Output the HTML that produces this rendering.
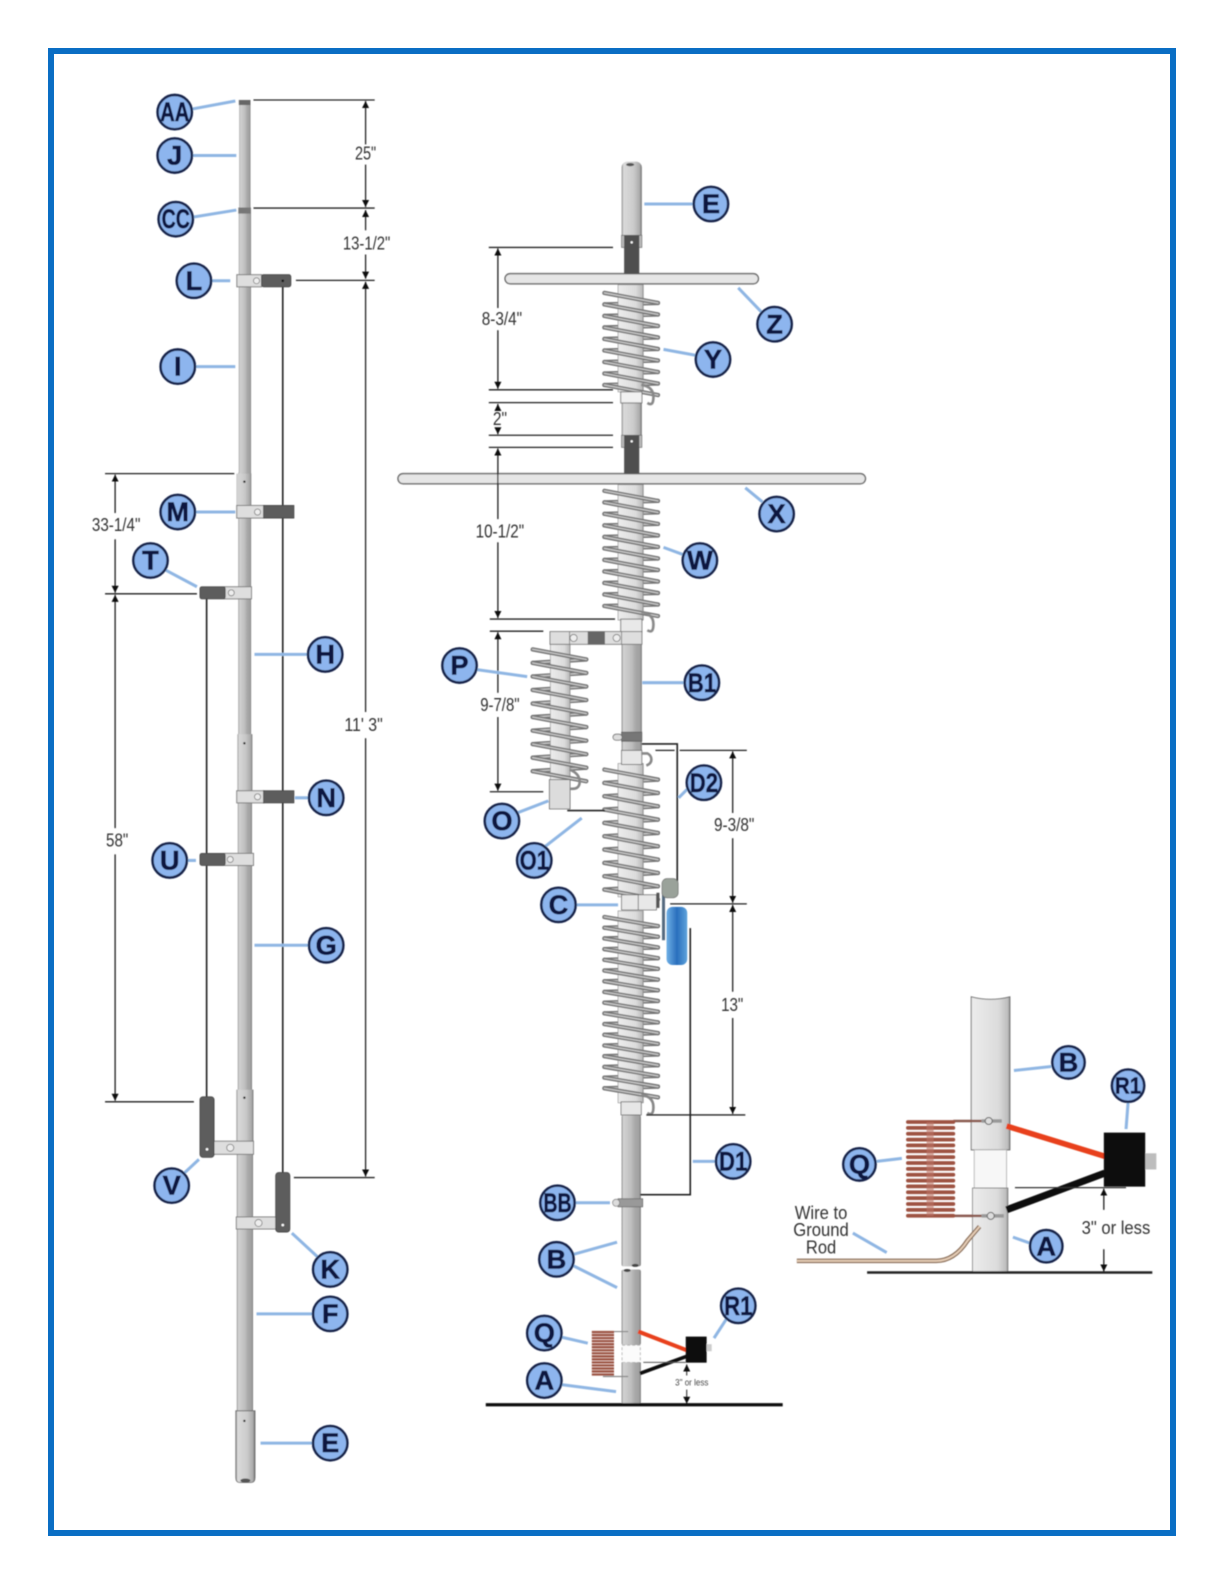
<!DOCTYPE html>
<html><head><meta charset="utf-8"><style>
html,body{margin:0;padding:0;background:#fff}
svg{display:block}
.c{fill:#8db5ee;stroke:#14244a;stroke-width:2.5}
.l{font:bold 27px "Liberation Sans",sans-serif;fill:#0a1740;stroke:#0a1740;stroke-width:.5;text-anchor:middle}
.ld{stroke:#8fb6e3;stroke-width:3;fill:none}
.d{stroke:#222;stroke-width:1.3;fill:none}
.t{font:18px "Liberation Sans",sans-serif;fill:#333;text-anchor:middle}
.cl{fill:#dedede;stroke:#777;stroke-width:.9}
.dk{fill:#5d5d5d;stroke:#444;stroke-width:.8}
.w{stroke:#222;stroke-width:1.6;fill:none}
.k1{stroke:#737373;stroke-width:4.2;fill:none;stroke-linecap:round}
.k2{stroke:#c8c8c8;stroke-width:1.4;fill:none;stroke-linecap:round}
.h{fill:#eee;stroke:#777;stroke-width:.8}
.hk{fill:none;stroke:#888;stroke-width:2.6}
</style></head><body>
<svg width="1224" height="1584" viewBox="0 0 1224 1584" xmlns="http://www.w3.org/2000/svg">
<defs>
<linearGradient id="g1" x1="0" x2="1" y1="0" y2="0"><stop offset="0" stop-color="#7a7a7a"/><stop offset=".08" stop-color="#d2d2d2"/><stop offset=".5" stop-color="#bebebe"/><stop offset=".7" stop-color="#a8a8a8"/><stop offset=".93" stop-color="#a0a0a0"/><stop offset="1" stop-color="#606060"/></linearGradient>
<linearGradient id="g2" x1="0" x2="1" y1="0" y2="0"><stop offset="0" stop-color="#8a8a8a"/><stop offset=".1" stop-color="#dadada"/><stop offset=".6" stop-color="#cbcbcb"/><stop offset=".9" stop-color="#aaa"/><stop offset="1" stop-color="#666"/></linearGradient>
<linearGradient id="g3" x1="0" x2="1" y1="0" y2="0"><stop offset="0" stop-color="#ececec"/><stop offset=".7" stop-color="#dcdcdc"/><stop offset=".95" stop-color="#bdbdbd"/><stop offset="1" stop-color="#888"/></linearGradient>
<linearGradient id="g4" x1="0" x2="1" y1="0" y2="0"><stop offset="0" stop-color="#6fb0e6"/><stop offset=".5" stop-color="#2a6fbd"/><stop offset="1" stop-color="#5ea3dc"/></linearGradient>
<marker id="a" markerWidth="8" markerHeight="8" refX="7" refY="3.5" orient="auto-start-reverse" markerUnits="userSpaceOnUse"><path d="M0 0L7 3.5L0 7z" fill="#111"/></marker>
<filter id="b" filterUnits="userSpaceOnUse" x="0" y="0" width="1224" height="1584"><feGaussianBlur stdDeviation=".55"/></filter>
<path id="yf" d="M597 290l56 10m-56 1.4l56 10m-56 1.4l56 10m-56 1.4l56 10m-56 1.4l56 10m-56 1.4l56 10m-56 1.4l56 10m-56 1.4l56 10m-56 1.4l56 10"/>
<path id="yb" d="M653 300l-56 1.4m56 10l-56 1.4m56 10l-56 1.4m56 10l-56 1.4m56 10l-56 1.4m56 10l-56 1.4m56 10l-56 1.4m56 10l-56 1.4"/>
<path id="wf" d="M597 486l56 10m-56 1.4l56 10m-56 1.4l56 10m-56 1.4l56 10m-56 1.4l56 10m-56 1.4l56 10m-56 1.4l56 10m-56 1.4l56 10m-56 1.4l56 10m-56 1.4l56 10m-56 1.4l56 10"/>
<path id="wb" d="M653 496l-56 1.4m56 10l-56 1.4m56 10l-56 1.4m56 10l-56 1.4m56 10l-56 1.4m56 10l-56 1.4m56 10l-56 1.4m56 10l-56 1.4m56 10l-56 1.4m56 10l-56 1.4"/>
<path id="pf" d="M526 643l56 10m-56 3.4l56 10m-56 3.4l56 10m-56 3.4l56 10m-56 3.4l56 10m-56 3.4l56 10m-56 3.4l56 10m-56 3.4l56 10m-56 3.4l56 10m-56 3.4l56 10"/>
<path id="pb" d="M582 653l-56 3.4m56 10l-56 3.4m56 10l-56 3.4m56 10l-56 3.4m56 10l-56 3.4m56 10l-56 3.4m56 10l-56 3.4m56 10l-56 3.4m56 10l-56 3.4"/>
<path id="df" d="M597 762l56 10m-56 3.2l56 10m-56 3.2l56 10m-56 3.2l56 10m-56 3.2l56 10m-56 3.2l56 10m-56 3.2l56 10m-56 3.2l56 10m-56 3.2l56 10m-56 3.2l56 10"/>
<path id="db" d="M653 772l-56 3.2m56 10l-56 3.2m56 10l-56 3.2m56 10l-56 3.2m56 10l-56 3.2m56 10l-56 3.2m56 10l-56 3.2m56 10l-56 3.2m56 10l-56 3.2"/>
<path id="lf" d="M597 908l56 9m-56 1.6l56 9m-56 1.6l56 9m-56 1.6l56 9m-56 1.6l56 9m-56 1.6l56 9m-56 1.6l56 9m-56 1.6l56 9m-56 1.6l56 9m-56 1.6l56 9m-56 1.6l56 9m-56 1.6l56 9m-56 1.6l56 9m-56 1.6l56 9m-56 1.6l56 9m-56 1.6l56 9m-56 1.6l56 9"/>
<path id="lb" d="M653 917l-56 1.6m56 9l-56 1.6m56 9l-56 1.6m56 9l-56 1.6m56 9l-56 1.6m56 9l-56 1.6m56 9l-56 1.6m56 9l-56 1.6m56 9l-56 1.6m56 9l-56 1.6m56 9l-56 1.6m56 9l-56 1.6m56 9l-56 1.6m56 9l-56 1.6m56 9l-56 1.6m56 9l-56 1.6"/>
</defs>
<rect width="1224" height="1584" fill="#fff"/>
<rect x="51" y="51" width="1122" height="1482" fill="none" stroke="#0a6ec4" stroke-width="6"/>
<g transform="scale(1.0099)" filter="url(#b)">

<!-- LEFT MAST -->
<line class="w" x1="280" y1="278" x2="280" y2="1162"/>
<line class="w" x1="204.6" y1="590" x2="204.6" y2="1087"/>
<rect x="237" y="99" width="11" height="110" fill="url(#g1)"/>
<rect x="236.5" y="208" width="12" height="262" fill="url(#g1)"/>
<rect x="236" y="468" width="12.6" height="260" fill="url(#g1)"/>
<rect x="235.5" y="727" width="14" height="353" fill="url(#g1)"/>
<rect x="234.5" y="1079" width="16" height="319" fill="url(#g1)"/>
<rect x="234.2" y="469" width="14.6" height="34" fill="url(#g2)" opacity=".7"/>
<rect x="235" y="727" width="15" height="56" fill="url(#g2)" opacity=".7"/>
<rect x="234" y="1079" width="17" height="51" fill="url(#g2)" opacity=".8"/>
<path d="M233.5 1397h19v66q0 5-4 5h-11q-4 0-4-5z" fill="url(#g2)" stroke="#666" stroke-width=".8"/>
<ellipse cx="243" cy="1466" rx="5" ry="2" fill="#555"/>
<circle cx="242" cy="477" r="1.2" fill="#222"/><circle cx="242" cy="736" r="1.2" fill="#222"/><circle cx="242" cy="1087" r="1.2" fill="#222"/><circle cx="242" cy="1407" r="1.2" fill="#222"/>
<rect x="236.5" y="99" width="11.5" height="5" fill="#666"/>
<rect x="236" y="205.5" width="12.5" height="6" fill="#777"/>
<!-- clamps -->
<rect class="cl" x="234.5" y="272" width="24.5" height="12"/><rect class="dk" x="259" y="272" width="29" height="12" rx="2"/><circle class="h" cx="254" cy="278" r="3"/><circle cx="280" cy="278" r="1.3" fill="#111"/>
<rect class="cl" x="234.4" y="500.5" width="27" height="12.5"/><rect class="dk" x="261" y="500.5" width="30" height="12.5"/><circle class="h" cx="255" cy="507" r="3"/>
<rect class="cl" x="234.4" y="783" width="27" height="12"/><rect class="dk" x="261" y="783" width="30" height="12"/><circle class="h" cx="255" cy="789" r="3"/>
<rect class="cl" x="222" y="581" width="27" height="12"/><rect class="dk" x="198" y="581" width="25" height="12" rx="2"/><circle class="h" cx="229" cy="587" r="3"/>
<rect class="cl" x="222" y="845" width="29" height="12"/><rect class="dk" x="198" y="845" width="25" height="12" rx="2"/><circle class="h" cx="228" cy="851" r="3"/>
<rect class="cl" x="210" y="1130" width="41" height="13"/><circle class="h" cx="228" cy="1136.5" r="3.5"/>
<rect class="dk" x="198" y="1086" width="14" height="60" rx="3"/><circle cx="205" cy="1138" r="1.3" fill="#fff"/>
<rect class="cl" x="234" y="1205" width="40" height="12"/><circle class="h" cx="256" cy="1211" r="3.5"/>
<rect class="dk" x="273" y="1161" width="14" height="59" rx="3"/><circle cx="280" cy="1213" r="1.3" fill="#fff"/>

<!-- left dims -->
<g class="d">
<path d="M251 99H371M251 206H371M293 277.6H371M291 1166H371"/>
<path d="M362 143V100" marker-end="url(#a)"/><path d="M362 163V205" marker-end="url(#a)"/>
<path d="M362 228V208" marker-end="url(#a)"/><path d="M362 252V276" marker-end="url(#a)"/>
<path d="M362 705V279" marker-end="url(#a)"/><path d="M362 731V1165" marker-end="url(#a)"/>
<path d="M104 469H232M104 588H195M104 1091H192"/>
<path d="M114 508V470" marker-end="url(#a)"/><path d="M114 534V587" marker-end="url(#a)"/>
<path d="M114 820V589" marker-end="url(#a)"/><path d="M114 846V1090" marker-end="url(#a)"/>
</g>
<text class="t" x="362" y="158" textLength="21" lengthAdjust="spacingAndGlyphs">25"</text>
<text class="t" x="363" y="247" textLength="47" lengthAdjust="spacingAndGlyphs">13-1/2"</text>
<text class="t" x="360" y="724" textLength="38" lengthAdjust="spacingAndGlyphs">11' 3"</text>
<text class="t" x="115" y="526" textLength="48" lengthAdjust="spacingAndGlyphs">33-1/4"</text>
<text class="t" x="116" y="838" textLength="22" lengthAdjust="spacingAndGlyphs">58"</text>

<!-- CENTER MAST -->
<path d="M615.5 166q0-5 5-6h10q5 1 5 6V234h-20z" fill="url(#g2)"/>
<ellipse cx="624" cy="163" rx="4" ry="1.6" fill="#555"/>
<rect x="615.5" y="233" width="20" height="12" fill="#bbb" stroke="#666" stroke-width=".7"/>
<rect x="618" y="233" width="15" height="40" fill="#505050"/><circle cx="625.5" cy="240" r="1.2" fill="#fff"/>
<rect x="615.5" y="399" width="20" height="32" fill="url(#g2)"/>
<rect x="615.5" y="431" width="20" height="12" fill="#bbb" stroke="#666" stroke-width=".7"/>
<rect x="618" y="431" width="15" height="40" fill="#505050"/><circle cx="625.5" cy="437" r="1.2" fill="#fff"/>
<rect x="615.5" y="638" width="20" height="106" fill="url(#g1)"/>
<rect x="615.5" y="1104" width="19" height="150" rx="2" fill="url(#g1)"/>
<rect x="615.5" y="1257" width="19" height="75" rx="2" fill="url(#g1)"/>
<ellipse cx="629" cy="1253" rx="3.5" ry="1.5" fill="#444"/><ellipse cx="621" cy="1258" rx="3.5" ry="1.5" fill="#444"/>

<!-- Y coil -->
<g transform="translate(625 0) scale(.95 1) translate(-625 0)"><use href="#yb" class="k1"/><use href="#yb" class="k2"/></g>
<rect x="612" y="282" width="25" height="106" fill="url(#g3)" stroke="#888" stroke-width=".6"/>
<g transform="translate(625 0) scale(.95 1) translate(-625 0)"><use href="#yf" class="k1"/><use href="#yf" class="k2"/></g>
<path class="hk" d="M635 381q12 2 12 12t-6 6"/>
<rect x="614.6" y="388" width="21" height="11" fill="#f1f1f1" stroke="#666" stroke-width=".8"/>
<rect x="500" y="271" width="251" height="10" rx="5" fill="#e6e6e6" stroke="#555" stroke-width="1.2"/>
<!-- W coil -->
<g transform="translate(625 0) scale(.95 1) translate(-625 0)"><use href="#wb" class="k1"/><use href="#wb" class="k2"/></g>
<rect x="612" y="480" width="25" height="134" fill="url(#g3)" stroke="#888" stroke-width=".6"/>
<g transform="translate(625 0) scale(.95 1) translate(-625 0)"><use href="#wf" class="k1"/><use href="#wf" class="k2"/></g>
<path class="hk" d="M635 606q12 2 12 12t-6 6"/>
<rect x="614.6" y="613" width="21" height="13" fill="#e9e9e9" stroke="#666" stroke-width=".8"/>
<rect x="394" y="469" width="463" height="10" rx="5" fill="#e6e6e6" stroke="#555" stroke-width="1.2"/>
<!-- P clamp, P coil -->
<g transform="translate(554 0) scale(.95 1) translate(-554 0)"><use href="#pb" class="k1"/><use href="#pb" class="k2"/></g>
<rect x="545" y="638" width="19.5" height="136" fill="url(#g3)" stroke="#888" stroke-width=".6"/>
<g transform="translate(554 0) scale(.95 1) translate(-554 0)"><use href="#pf" class="k1"/><use href="#pf" class="k2"/></g>
<rect class="cl" x="544.6" y="625.4" width="91" height="12.6"/>
<rect x="582" y="625.4" width="17" height="12.6" fill="#666"/>
<circle class="h" cx="568" cy="631.7" r="3.5"/><circle class="h" cx="610.6" cy="631.7" r="3.5"/>
<path d="M564 625.4V638M615.5 625.4V638" stroke="#777" stroke-width=".8" fill="none"/>
<path class="hk" d="M564 762q10 4 10 12t-9 7"/>
<rect x="544" y="772" width="20.5" height="29" fill="#dcdcdc" stroke="#666" stroke-width=".8"/>
<!-- band above D2 -->
<rect x="615.5" y="725" width="20" height="9" fill="#777" stroke="#555" stroke-width=".7"/>
<rect x="607" y="727" width="9" height="6" rx="3" fill="#ddd" stroke="#666" stroke-width=".8"/>
<!-- D2 coil -->
<g transform="translate(625 0) scale(.95 1) translate(-625 0)"><use href="#db" class="k1"/><use href="#db" class="k2"/></g>
<rect x="612" y="756" width="25" height="132" fill="url(#g3)" stroke="#888" stroke-width=".6"/>
<g transform="translate(625 0) scale(.95 1) translate(-625 0)"><use href="#df" class="k1"/><use href="#df" class="k2"/></g>
<rect x="615.5" y="743" width="20" height="14" fill="#e6e6e6" stroke="#666" stroke-width=".8"/>
<path class="hk" d="M635 746h6q4 2 4 6t-5 6"/>
<path class="w" d="M635.5 736.7H670.6V884"/>
<path class="w" d="M561.7 802.6H599"/>
<!-- lower coil -->
<g transform="translate(625 0) scale(.95 1) translate(-625 0)"><use href="#lb" class="k1"/><use href="#lb" class="k2"/></g>
<rect x="612" y="902" width="25" height="190" fill="url(#g3)" stroke="#888" stroke-width=".6"/>
<g transform="translate(625 0) scale(.95 1) translate(-625 0)"><use href="#lf" class="k1"/><use href="#lf" class="k2"/></g>
<path class="hk" d="M635 1084q12 2 12 12t-6 6"/>
<rect x="615" y="1091" width="20" height="13" fill="#e6e6e6" stroke="#666" stroke-width=".8"/>
<!-- C block -->
<rect x="615.5" y="886" width="34.5" height="15" fill="#e8e8e8" stroke="#666" stroke-width=".8"/>
<path d="M632 886V901" stroke="#666" stroke-width=".8"/>
<rect x="650" y="884" width="3" height="15" fill="#555"/>
<rect x="655.5" y="884" width="3" height="47" fill="#556b80"/>
<rect x="655.5" y="870" width="16" height="19" rx="5" fill="#9aa29a" stroke="#666" stroke-width=".6"/>
<rect x="660" y="898" width="20.5" height="57.6" rx="6" fill="url(#g4)"/>
<path class="w" d="M683.5 919V1183H634"/>
<!-- BB band -->
<rect x="612" y="1187" width="24.4" height="8" fill="#999" stroke="#666" stroke-width=".7"/>
<rect x="606.6" y="1187.5" width="7" height="7" rx="3.5" fill="#ddd" stroke="#777" stroke-width=".7"/>

<!-- bottom of centre -->
<rect x="616" y="1332" width="18" height="17" fill="#fbfbfb" stroke="#aaa" stroke-width=".8" stroke-dasharray="3 2"/>
<rect x="615.5" y="1349" width="19" height="41" fill="url(#g1)"/>
<path d="M597 1318.5H622" stroke="#888" stroke-width="1.2"/><path d="M597 1363H622" stroke="#888" stroke-width="1.2"/>
<path d="M586 1319H608M586 1322H608M586 1325H608M586 1328H608M586 1331H608M586 1334H608M586 1337H608M586 1340H608M586 1343H608M586 1346H608M586 1349H608M586 1352H608M586 1355H608M586 1358H608M586 1361H608" stroke="#9c5545" stroke-width="2.3" fill="none"/>
<path d="M632 1318.5L680 1337" stroke="#e8401a" stroke-width="4"/>
<path d="M633.7 1360L680 1343" stroke="#111" stroke-width="3.6"/>
<rect x="679" y="1323.5" width="20.7" height="25.8" fill="#111"/>
<rect x="699.7" y="1331" width="5" height="7" fill="#ccc"/>
<path d="M637 1349H679" stroke="#555" stroke-width="1"/>
<path d="M680 1362V1351" stroke="#222" stroke-width="1" fill="none" marker-end="url(#a)"/><path d="M680 1376V1390" stroke="#222" stroke-width="1" fill="none" marker-end="url(#a)"/>
<text x="685" y="1372" font-family="Liberation Sans,sans-serif" font-size="9" fill="#444" text-anchor="middle" textLength="33" lengthAdjust="spacingAndGlyphs">3" or less</text>
<path d="M481 1391H775" stroke="#111" stroke-width="3.2"/>

<!-- center dims -->
<g class="d">
<path d="M484 245H607M484 386H607M484 398.7H607M484 431H607M484 443H607M485 613H609M485 625H538M485 784H538"/>
<path d="M649 743H668M673 743H739.5M663.6 895H739.5M640 1104H738"/>
<path d="M493 305V246" marker-end="url(#a)"/><path d="M493 327V385" marker-end="url(#a)"/>
<path d="M493 405V400" marker-end="url(#a)"/><path d="M493 424V430" marker-end="url(#a)"/>
<path d="M493 514V444" marker-end="url(#a)"/><path d="M493 537V612" marker-end="url(#a)"/>
<path d="M493 686V626" marker-end="url(#a)"/><path d="M493 710V783" marker-end="url(#a)"/>
<path d="M725.5 805V744" marker-end="url(#a)"/><path d="M725.5 830V894" marker-end="url(#a)"/>
<path d="M725.5 982V896" marker-end="url(#a)"/><path d="M725.5 1008V1103" marker-end="url(#a)"/>
</g>
<text class="t" x="497" y="322" textLength="40" lengthAdjust="spacingAndGlyphs">8-3/4"</text>
<text class="t" x="495" y="421" textLength="14" lengthAdjust="spacingAndGlyphs">2"</text>
<text class="t" x="495" y="532" textLength="48" lengthAdjust="spacingAndGlyphs">10-1/2"</text>
<text class="t" x="495" y="704" textLength="39" lengthAdjust="spacingAndGlyphs">9-7/8"</text>
<text class="t" x="727" y="823" textLength="40" lengthAdjust="spacingAndGlyphs">9-3/8"</text>
<text class="t" x="725" y="1001" textLength="22" lengthAdjust="spacingAndGlyphs">13"</text>

<!-- RIGHT DETAIL -->
<path d="M961.7 987q19 5 38.3 0V1138.6H961.7z" fill="url(#g3)" stroke="#666" stroke-width=".9"/>
<rect x="964.7" y="1138.6" width="32" height="37.8" fill="#f7f7f7" stroke="#aaa" stroke-width=".8"/>
<rect x="963" y="1176.4" width="35" height="83.6" fill="url(#g3)" stroke="#777" stroke-width=".8"/>
<path d="M789 1248.5H927q18 0 31-20l12-14" fill="none" stroke="#8b6f5a" stroke-width="4.5"/>
<path d="M789 1248.5H927q18 0 31-20l12-14" fill="none" stroke="#e6cdb6" stroke-width="2"/>
<path d="M944 1110H972M944 1204H972" stroke="#8a5a50" stroke-width="2.5" fill="none"/>
<path d="M972 1110H992M972 1204H994" stroke="#999" stroke-width="3.5" fill="none"/>
<circle cx="979" cy="1110" r="3.5" fill="#ddd" stroke="#666" stroke-width="1"/><circle cx="981" cy="1204" r="3.5" fill="#ddd" stroke="#666" stroke-width="1"/>
<path d="M899 1111H944M899 1116.8H944M899 1122.6H944M899 1128.4H944M899 1134.2H944M899 1140H944M899 1145.8H944M899 1151.6H944M899 1157.4H944M899 1163.2H944M899 1169H944M899 1174.8H944M899 1180.6H944M899 1186.4H944M899 1192.2H944M899 1198H944M899 1203.8H944" stroke="#9e5243" stroke-width="3.7" fill="none" stroke-linecap="round"/>
<path d="M921 1111V1204" stroke="#bb7365" stroke-width="7" opacity=".6"/>
<path d="M996.7 1115L1094 1145" stroke="#e8401a" stroke-width="5.5"/>
<path d="M996.7 1198L1094 1161.6" stroke="#111" stroke-width="7"/>
<path d="M1005 1176H1115" stroke="#333" stroke-width="1.3"/>
<rect x="1134" y="1142" width="11" height="16" fill="#bdbdbd"/>
<rect x="1093" y="1121.5" width="41" height="53.5" fill="#111"/>
<path d="M858.6 1260H1141" stroke="#222" stroke-width="2.5"/>
<path class="d" d="M1093 1198V1177" marker-end="url(#a)"/><path class="d" d="M1093 1237V1259" marker-end="url(#a)"/>
<text class="t" x="1105" y="1222" textLength="68" lengthAdjust="spacingAndGlyphs">3" or less</text>
<text class="t" x="813" y="1207" textLength="52" lengthAdjust="spacingAndGlyphs">Wire to</text>
<text class="t" x="813" y="1224" textLength="55" lengthAdjust="spacingAndGlyphs">Ground</text>
<text class="t" x="813" y="1241" textLength="30" lengthAdjust="spacingAndGlyphs">Rod</text>

<!-- leaders -->
<g class="ld">
<path d="M190 108L233 100M190 154H234M191 215L234 208M209 278H228M193 363H233M193 507H233M163 564L195 581M305 648H252M306 790H292M185 852H194M306 936H252M182 1162L197 1148M315 1245L289 1221M310 1301H254M310 1429H258"/>
<path d="M687 202H638M754 309L731 285M690 352L657 346M755 497L738 483M676 549L657 542M678 676H636M472 663L522 670M512 805L543 793M540 838L576 810M682 780L672 790M570 896H612M709 1150H686"/>
<path d="M569 1191H604M568 1242L611 1230M567 1253L611 1275M556 1324L582 1330M556 1371L610 1378M720 1305L707 1325"/>
<path d="M1041 1056L1004 1060M1117 1092L1115 1118M868 1150L893 1147M1020 1231L1003 1225M844.5 1221L878 1240.3"/>
</g>

<!-- label circles -->
<g>
<circle class="c" cx="173" cy="111" r="17"/><text class="l" x="173" y="120" textLength="29" lengthAdjust="spacingAndGlyphs">AA</text>
<circle class="c" cx="173" cy="154" r="17"/><text class="l" x="173" y="163">J</text>
<circle class="c" cx="174" cy="217" r="17"/><text class="l" x="174" y="226" textLength="28" lengthAdjust="spacingAndGlyphs">CC</text>
<circle class="c" cx="192" cy="278" r="17"/><text class="l" x="192" y="287">L</text>
<circle class="c" cx="176" cy="363" r="17"/><text class="l" x="176" y="372">I</text>
<circle class="c" cx="176" cy="507" r="17"/><text class="l" x="176" y="516">M</text>
<circle class="c" cx="149" cy="555" r="17"/><text class="l" x="149" y="564">T</text>
<circle class="c" cx="322" cy="648" r="17"/><text class="l" x="322" y="657">H</text>
<circle class="c" cx="323" cy="790" r="17"/><text class="l" x="323" y="799">N</text>
<circle class="c" cx="168" cy="852" r="17"/><text class="l" x="168" y="861">U</text>
<circle class="c" cx="323" cy="936" r="17"/><text class="l" x="323" y="945">G</text>
<circle class="c" cx="170" cy="1174" r="17"/><text class="l" x="170" y="1183">V</text>
<circle class="c" cx="327" cy="1257" r="17"/><text class="l" x="327" y="1266">K</text>
<circle class="c" cx="327" cy="1301" r="17"/><text class="l" x="327" y="1310">F</text>
<circle class="c" cx="327" cy="1429" r="17"/><text class="l" x="327" y="1438">E</text>

<circle class="c" cx="704" cy="202" r="17"/><text class="l" x="704" y="211">E</text>
<circle class="c" cx="767" cy="321" r="17"/><text class="l" x="767" y="330">Z</text>
<circle class="c" cx="706" cy="356" r="17"/><text class="l" x="706" y="365">Y</text>
<circle class="c" cx="769" cy="509" r="17"/><text class="l" x="769" y="518">X</text>
<circle class="c" cx="693" cy="555" r="17"/><text class="l" x="693" y="564">W</text>
<circle class="c" cx="455" cy="659" r="17"/><text class="l" x="455" y="668">P</text>
<circle class="c" cx="695" cy="676" r="17"/><text class="l" x="695" y="685" textLength="28" lengthAdjust="spacingAndGlyphs">B1</text>
<circle class="c" cx="697" cy="775" r="17"/><text class="l" x="697" y="784" textLength="28" lengthAdjust="spacingAndGlyphs">D2</text>
<circle class="c" cx="497" cy="813" r="17"/><text class="l" x="497" y="822">O</text>
<circle class="c" cx="529" cy="852" r="17"/><text class="l" x="529" y="861" textLength="29" lengthAdjust="spacingAndGlyphs">O1</text>
<circle class="c" cx="553" cy="896" r="17"/><text class="l" x="553" y="905">C</text>
<circle class="c" cx="726" cy="1150" r="17"/><text class="l" x="726" y="1159" textLength="28" lengthAdjust="spacingAndGlyphs">D1</text>
<circle class="c" cx="552" cy="1191" r="17"/><text class="l" x="552" y="1200" textLength="28" lengthAdjust="spacingAndGlyphs">BB</text>
<circle class="c" cx="551" cy="1247" r="17"/><text class="l" x="551" y="1256">B</text>
<circle class="c" cx="539" cy="1320" r="17"/><text class="l" x="539" y="1329">Q</text>
<circle class="c" cx="539" cy="1367" r="17"/><text class="l" x="539" y="1376">A</text>
<circle class="c" cx="731" cy="1293" r="17"/><text class="l" x="731" y="1302" textLength="28" lengthAdjust="spacingAndGlyphs">R1</text>

<circle class="c" cx="1058" cy="1052" r="16"/><text class="l" x="1058" y="1061">B</text>
<circle class="c" cx="1117" cy="1075" r="16"/><text class="l" x="1117" y="1083" style="font-size:23px" textLength="26" lengthAdjust="spacingAndGlyphs">R1</text>
<circle class="c" cx="851" cy="1153" r="16"/><text class="l" x="851" y="1162">Q</text>
<circle class="c" cx="1036" cy="1234" r="16"/><text class="l" x="1036" y="1243">A</text>
</g>
</g>
</svg>
</body></html>
